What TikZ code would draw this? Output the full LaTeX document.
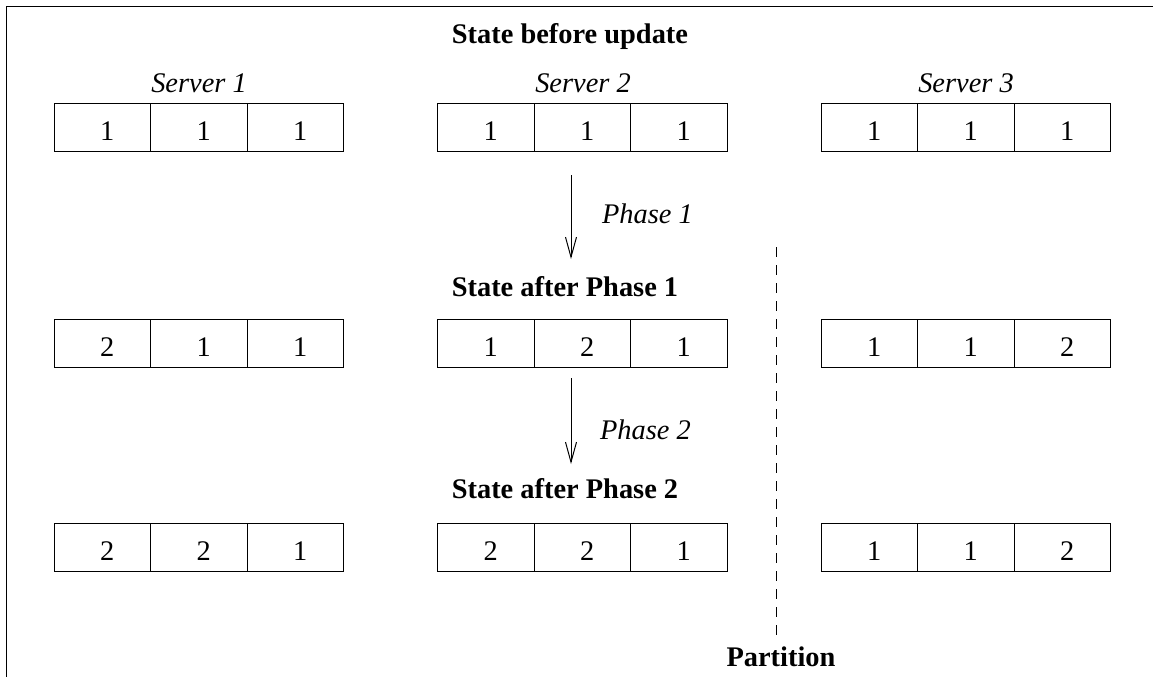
\documentclass[tikz,border=0pt]{standalone}
\usepackage{xcolor}
\usepackage{fontspec}
\setmainfont{Liberation Serif}
\usepackage{tikz}
\usetikzlibrary{arrows.meta}

\begin{document}
\begin{tikzpicture}[
        x=0.5pt, y=-0.5pt,
        every node/.style={font=\fontsize{14.2pt}{17pt}\selectfont},
        cell/.style={
            draw,
            line width=0.5pt,
            inner sep=0pt,
            outer sep=0pt,
            minimum width=48.25pt,
            minimum height=24pt,
            text height=13.6pt,
            text depth=0pt
        },
        heading/.style={anchor=base, font=\fontsize{14.2pt}{17pt}\selectfont\bfseries},
        servername/.style={anchor=base, font=\fontsize{14.2pt}{17pt}\selectfont\itshape},
        phasearrow/.style={line width=0.5pt, -{Straight Barb[length=10pt,width=5.5pt]}}
    ]
    \useasboundingbox (0,0) rectangle (1153,677);

    % frame
    \draw[line width=0.6pt] (1153,6.5) -- (6.5,6.5) -- (6.5,677);

    % headings
    \node[heading] (before) at (570,43) {State before update};
    \node[heading] (after1) at (565,296) {State after Phase 1};
    \node[heading] (after2) at (565,498) {State after Phase 2};
    \node[heading] (partition) at (781,666) {Partition};

    % server names
    \node[servername] (srv1) at (199,92) {Server 1};
    \node[servername] (srv2) at (583,92) {Server 2};
    \node[servername] (srv3) at (966,92) {Server 3};

    % server states, three cells per server
    \foreach \r/\y/\vals in {1/127/{1,1,1,1,1,1,1,1,1},
                             2/343/{2,1,1,1,2,1,1,1,2},
                             3/547/{2,2,1,2,2,1,1,1,2}} {
        \foreach \v [count=\i from 0] in \vals {
            \pgfmathtruncatemacro{\s}{int(\i/3)+1}
            \pgfmathtruncatemacro{\c}{mod(\i,3)+1}
            \pgfmathsetmacro{\x}{54+383.5*(\s-1)+48.25+96.5*(\c-1)}
            \node[cell] (r\r s\s c\c) at (\x,\y) {\hspace*{5pt}\v};
        }
    }

    % phases
    \coordinate (ph1top) at (571,175);
    \coordinate (ph1tip) at (571,259);
    \coordinate (ph2top) at (571,378);
    \coordinate (ph2tip) at (571,464);
    \draw[phasearrow] (ph1top) -- (ph1tip);
    \draw[phasearrow] (ph2top) -- (ph2tip);
    \node[servername, anchor=base west] (ph1) at (595,223) {Phase 1};
    \node[servername, anchor=base west] (ph2) at (593,439) {Phase 2};

    % partition
    \coordinate (cuttop) at (776,247);
    \coordinate (cutbot) at (776,640);
    \draw[line width=0.5pt, dash pattern=on 5pt off 4pt] (cuttop) -- (cutbot);
\end{tikzpicture}
\end{document}
